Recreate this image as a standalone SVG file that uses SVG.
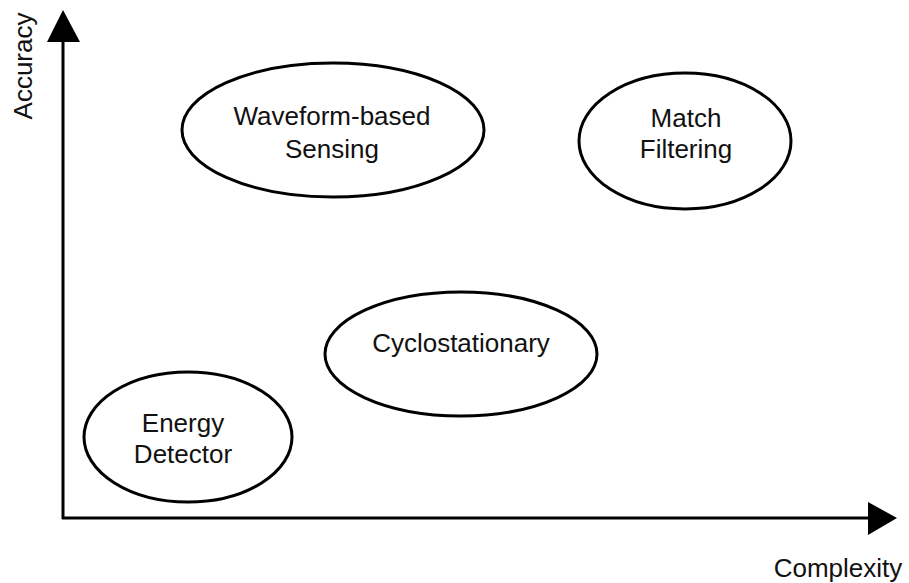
<svg xmlns="http://www.w3.org/2000/svg" width="909" height="583" viewBox="0 0 909 583">
<style>
.node ellipse{fill:#fff;stroke:#000;stroke-width:3}
text{font-family:"Liberation Sans",Arial,sans-serif;font-size:26px;fill:#111;text-anchor:middle}
.axis{stroke:#000;stroke-width:3;fill:none}
</style>
<rect width="909" height="583" fill="#fff"/>
<g id="connectors">
<line class="axis" x1="63" y1="519" x2="63" y2="38"/>
<polygon points="63,10 47,42 80,42" fill="#000"/>
<line class="axis" x1="62" y1="518" x2="870" y2="518"/>
<polygon points="897,518 868,502 868,535" fill="#000"/>
</g>
<g id="axis-labels">
<text x="0" y="0" transform="translate(32,66) rotate(-90)">Accuracy</text>
<text x="838" y="577">Complexity</text>
</g>
<g id="waveform" class="node">
<ellipse cx="333" cy="130" rx="151" ry="67"/>
<text x="332" y="125">Waveform-based</text>
<text x="332" y="158">Sensing</text>
</g>
<g id="match" class="node">
<ellipse cx="685" cy="141" rx="106" ry="68"/>
<text x="686" y="127">Match</text>
<text x="686" y="158">Filtering</text>
</g>
<g id="cyclo" class="node">
<ellipse cx="461" cy="354" rx="136" ry="62"/>
<text x="461" y="352">Cyclostationary</text>
</g>
<g id="energy" class="node">
<ellipse cx="188" cy="437" rx="104" ry="65"/>
<text x="183" y="432">Energy</text>
<text x="183" y="463">Detector</text>
</g>
</svg>
